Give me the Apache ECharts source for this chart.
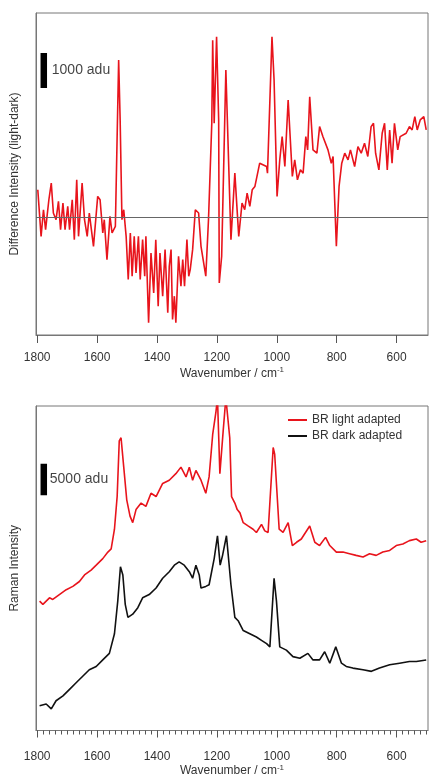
<!DOCTYPE html>
<html>
<head>
<meta charset="utf-8">
<script src="https://cdn.jsdelivr.net/npm/echarts@6/dist/echarts.min.js"></script>
<style>
  html, body { margin: 0; padding: 0; background: #fff; }
  #main { width: 429px; height: 778px; }
</style>
</head>
<body>
<div id="main"></div>
<script>
// difference spectrum (light - dark), adu
const diffWn = [1798,1787,1779,1772,1761,1753,1746,1737,1729,1722,1714,1707,1698,1692,1683,1676,1668,1662,1650,1642,1633,1626,1612,1598,1590,1581,1576,1567,1557,1550,1539,1528,1523,1517,1511,1503,1496,1489,1483,1476,1470,1462,1456,1448,1441,1437,1428,1420,1411,1404,1396,1390,1381,1373,1364,1359,1353,1348,1342,1337,1328,1320,1314,1308,1300,1294,1289,1281,1272,1261,1253,1237,1228,1217,1214,1209,1201,1194,1192,1184,1170,1153,1140,1127,1116,1107,1099,1090,1082,1073,1057,1034,1031,1016,1009,999,990,982,973,962,948,940,931,921,912,903,897,890,879,866,857,846,829,818,812,801,792,783,773,762,754,740,729,718,707,696,685,677,670,659,648,640,631,623,615,607,596,588,568,557,548,539,531,521,509,501];
const diffVal = [779,-551,209,-361,494,969,114,-76,447,-361,399,-361,304,-361,494,-646,1064,-551,969,-76,-551,114,-836,589,494,-456,-76,-1216,19,-456,-266,4484,2774,-76,209,-551,-1786,-456,-1691,-551,-1596,-551,-1786,-646,-1691,-551,-3021,-1026,-2166,-646,-2546,-1026,-2261,-931,-2736,-1406,-931,-2926,-2261,-3021,-1121,-1976,-1216,-1976,-646,-1691,-1501,-931,209,114,-836,-1691,-76,2679,5054,2679,5149,2774,-1881,-1121,4199,-646,1254,-551,399,209,684,304,779,874,1539,1444,1254,5149,3914,589,1634,2299,1444,3344,1159,1634,1064,1349,1254,2299,1919,3439,1919,1824,2584,2299,1919,1539,1729,-836,874,1539,1824,1634,1919,1444,2014,1824,2109,1729,2584,2679,1824,1349,2394,2679,1349,2489,1539,2679,1919,2299,2394,2584,2489,2869,2489,2774,2869,2489];

// Raman spectra, adu
const lightWn = [1792,1781,1759,1748,1726,1703,1681,1659,1642,1620,1603,1581,1564,1553,1542,1533,1526,1520,1511,1501,1490,1481,1470,1453,1437,1420,1403,1381,1359,1337,1320,1303,1292,1281,1270,1253,1237,1226,1214,1203,1198,1190,1179,1170,1157,1151,1140,1132,1123,1112,1096,1079,1068,1051,1040,1029,1012,1007,992,979,962,948,934,918,890,873,857,837,823,801,779,757,735,712,690,668,646,623,601,579,557,534,518,501];
const lightVal = [20624,20103,21144,20884,21665,22446,22967,23748,24790,25571,26352,27394,28436,28956,32081,37289,46143,46664,41976,36769,34164,33123,35206,36248,35727,37810,37289,39373,39894,40935,41976,40414,41976,39894,41456,39894,37810,40414,47185,50831,53000,40935,47706,53000,46664,37289,36248,35206,34685,33123,32602,32081,31560,32862,31821,31560,45101,44060,32081,31560,33123,29477,29998,30519,32602,29998,29477,30779,29477,28436,28436,28175,27915,27654,28175,27915,28436,28696,29477,29738,30258,30519,29998,30258];
const darkWn = [1792,1770,1753,1737,1714,1692,1670,1648,1626,1603,1581,1559,1542,1531,1522,1514,1506,1497,1481,1464,1448,1426,1403,1381,1359,1342,1326,1309,1292,1281,1270,1259,1253,1237,1226,1209,1198,1189,1181,1168,1153,1140,1129,1112,1090,1068,1051,1034,1023,1009,1001,990,968,946,923,896,879,857,840,823,803,784,768,746,712,684,657,623,590,557,534,501];
const darkVal = [3958,4218,3437,4739,5520,6562,7604,8645,9687,10208,11249,12291,15416,20624,26092,24790,20103,18020,18540,19582,21144,21665,22707,24269,25310,26352,26873,26352,25310,24269,26352,24790,22707,22967,23228,27394,31040,26352,27915,31040,23228,18020,17499,15936,15416,14895,14374,13853,13332,24269,20624,13332,12812,11770,11510,12291,11249,11249,12551,10728,13332,10728,10208,9947,9687,9426,9947,10468,10728,10989,10989,11249];

const majorTicks = [1800, 1600, 1400, 1200, 1000, 800, 600];
const minorTicks = [];
for (let t = 500; t <= 1800; t += 20) minorTicks.push(t);

const scaleBarX = 1778;
const scaleTop = [3686, 4686];      // 1000 adu
const scaleBottom = [37500, 42500]; // 5000 adu

const zip = (a, b) => a.map((v, i) => [v, b[i]]);

const font = "'Liberation Sans', Arial, Helvetica, sans-serif";
const txt = '#333';
const xMin = 495, xMax = 1804;

const chart = echarts.init(document.getElementById('main'));

function xAxisBase(gridIndex, tickLen, labelMargin, nameGap) {
    return {
        type: 'value',
        gridIndex: gridIndex,
        position: 'bottom',
        inverse: true,
        min: xMin,
        max: xMax,
        name: 'Wavenumber / cm{sup|-1}',
        nameLocation: 'middle',
        nameGap: nameGap,
        nameTextStyle: {
            color: txt, fontFamily: font, fontSize: 12,
            rich: { sup: { fontSize: 8, fontFamily: font, color: txt, padding: [0, 0, 7, 0] } }
        },
        axisLine: { show: true, onZero: false, lineStyle: { color: '#777', width: 1 } },
        axisTick: { show: true, inside: false, length: tickLen, customValues: majorTicks, lineStyle: { color: '#555' } },
        axisLabel: { show: true, margin: labelMargin, customValues: majorTicks, formatter: v => String(v), color: txt, fontFamily: font, fontSize: 12 },
        splitLine: { show: false }
    };
}

const yBase = (gridIndex, name, min, max) => ({
    type: 'value',
    gridIndex: gridIndex,
    min: min,
    max: max,
    name: name,
    nameLocation: 'middle',
    nameGap: 15,
    nameTextStyle: { color: txt, fontFamily: font, fontSize: 12 },
    axisLine: { show: true, onZero: false, lineStyle: { color: '#777' } },
    axisTick: { show: false },
    axisLabel: { show: false },
    splitLine: { show: false }
});

let option = {
    animation: false,
    backgroundColor: '#fff',
    grid: [
        { left: 36, top: 13, width: 392, height: 322, show: true, borderColor: '#777', borderWidth: 1 },
        { left: 36, top: 406, width: 392, height: 331, show: true, borderColor: '#777', borderWidth: 1 }
    ],
    legend: {
        data: ['BR light adapted', 'BR dark adapted'],
        orient: 'vertical',
        left: 283,
        top: 409,
        icon: 'rect',
        itemWidth: 19,
        itemHeight: 2,
        itemGap: 4,
        textStyle: { color: txt, fontFamily: font, fontSize: 12 }
    },
    xAxis: [
        xAxisBase(0, 8, 17, 31),
        xAxisBase(1, 7, 20, 33),
        {
            // minor ticks of the lower panel
            type: 'value', gridIndex: 1, position: 'bottom', inverse: true, min: xMin, max: xMax,
            axisLine: { show: false, onZero: false },
            axisTick: { show: true, length: 4, customValues: minorTicks, lineStyle: { color: '#555' } },
            axisLabel: { show: false },
            splitLine: { show: false }
        }
    ],
    yAxis: [
        yBase(0, 'Difference Intensity (light-dark)', -3370, 5830),
        yBase(1, 'Raman Intensity', 0, 51719)
    ],
    series: [
        {
            name: 'difference', type: 'line', xAxisIndex: 0, yAxisIndex: 0,
            data: zip(diffWn, diffVal), showSymbol: false, clip: true,
            lineStyle: { color: '#e8141c', width: 1.6 },
            markLine: {
                silent: true, symbol: 'none', label: { show: false },
                lineStyle: { color: '#666', width: 1, type: 'solid' },
                data: [{ yAxis: 0 }]
            }
        },
        {
            name: 'scaleTop', type: 'line', xAxisIndex: 0, yAxisIndex: 0,
            data: scaleTop.map(v => [scaleBarX, v]), showSymbol: false,
            lineStyle: { color: '#000', width: 6.5, cap: 'butt' }
        },
        {
            name: 'scaleTopLabel', type: 'scatter', xAxisIndex: 0, yAxisIndex: 0,
            data: [[scaleBarX, (scaleTop[0] + scaleTop[1]) / 2]], symbolSize: 0,
            label: { show: true, position: 'right', distance: 8, formatter: '1000 adu', color: '#111', fontFamily: font, fontSize: 14 }
        },
        {
            name: 'BR light adapted', type: 'line', xAxisIndex: 1, yAxisIndex: 1,
            data: zip(lightWn, lightVal), showSymbol: false, clip: true,
            color: '#e8141c',
            lineStyle: { color: '#e8141c', width: 1.6 }
        },
        {
            name: 'BR dark adapted', type: 'line', xAxisIndex: 1, yAxisIndex: 1,
            data: zip(darkWn, darkVal), showSymbol: false, clip: true,
            color: '#111',
            lineStyle: { color: '#111', width: 1.6 }
        },
        {
            name: 'scaleBottom', type: 'line', xAxisIndex: 1, yAxisIndex: 1,
            data: scaleBottom.map(v => [scaleBarX, v]), showSymbol: false,
            lineStyle: { color: '#000', width: 6.5, cap: 'butt' }
        },
        {
            name: 'scaleBottomLabel', type: 'scatter', xAxisIndex: 1, yAxisIndex: 1,
            data: [[scaleBarX, (scaleBottom[0] + scaleBottom[1]) / 2]], symbolSize: 0,
            label: { show: true, position: 'right', distance: 6, formatter: '5000 adu', color: '#111', fontFamily: font, fontSize: 14 }
        }
    ]
};

chart.setOption(option);
</script>
</body>
</html>
